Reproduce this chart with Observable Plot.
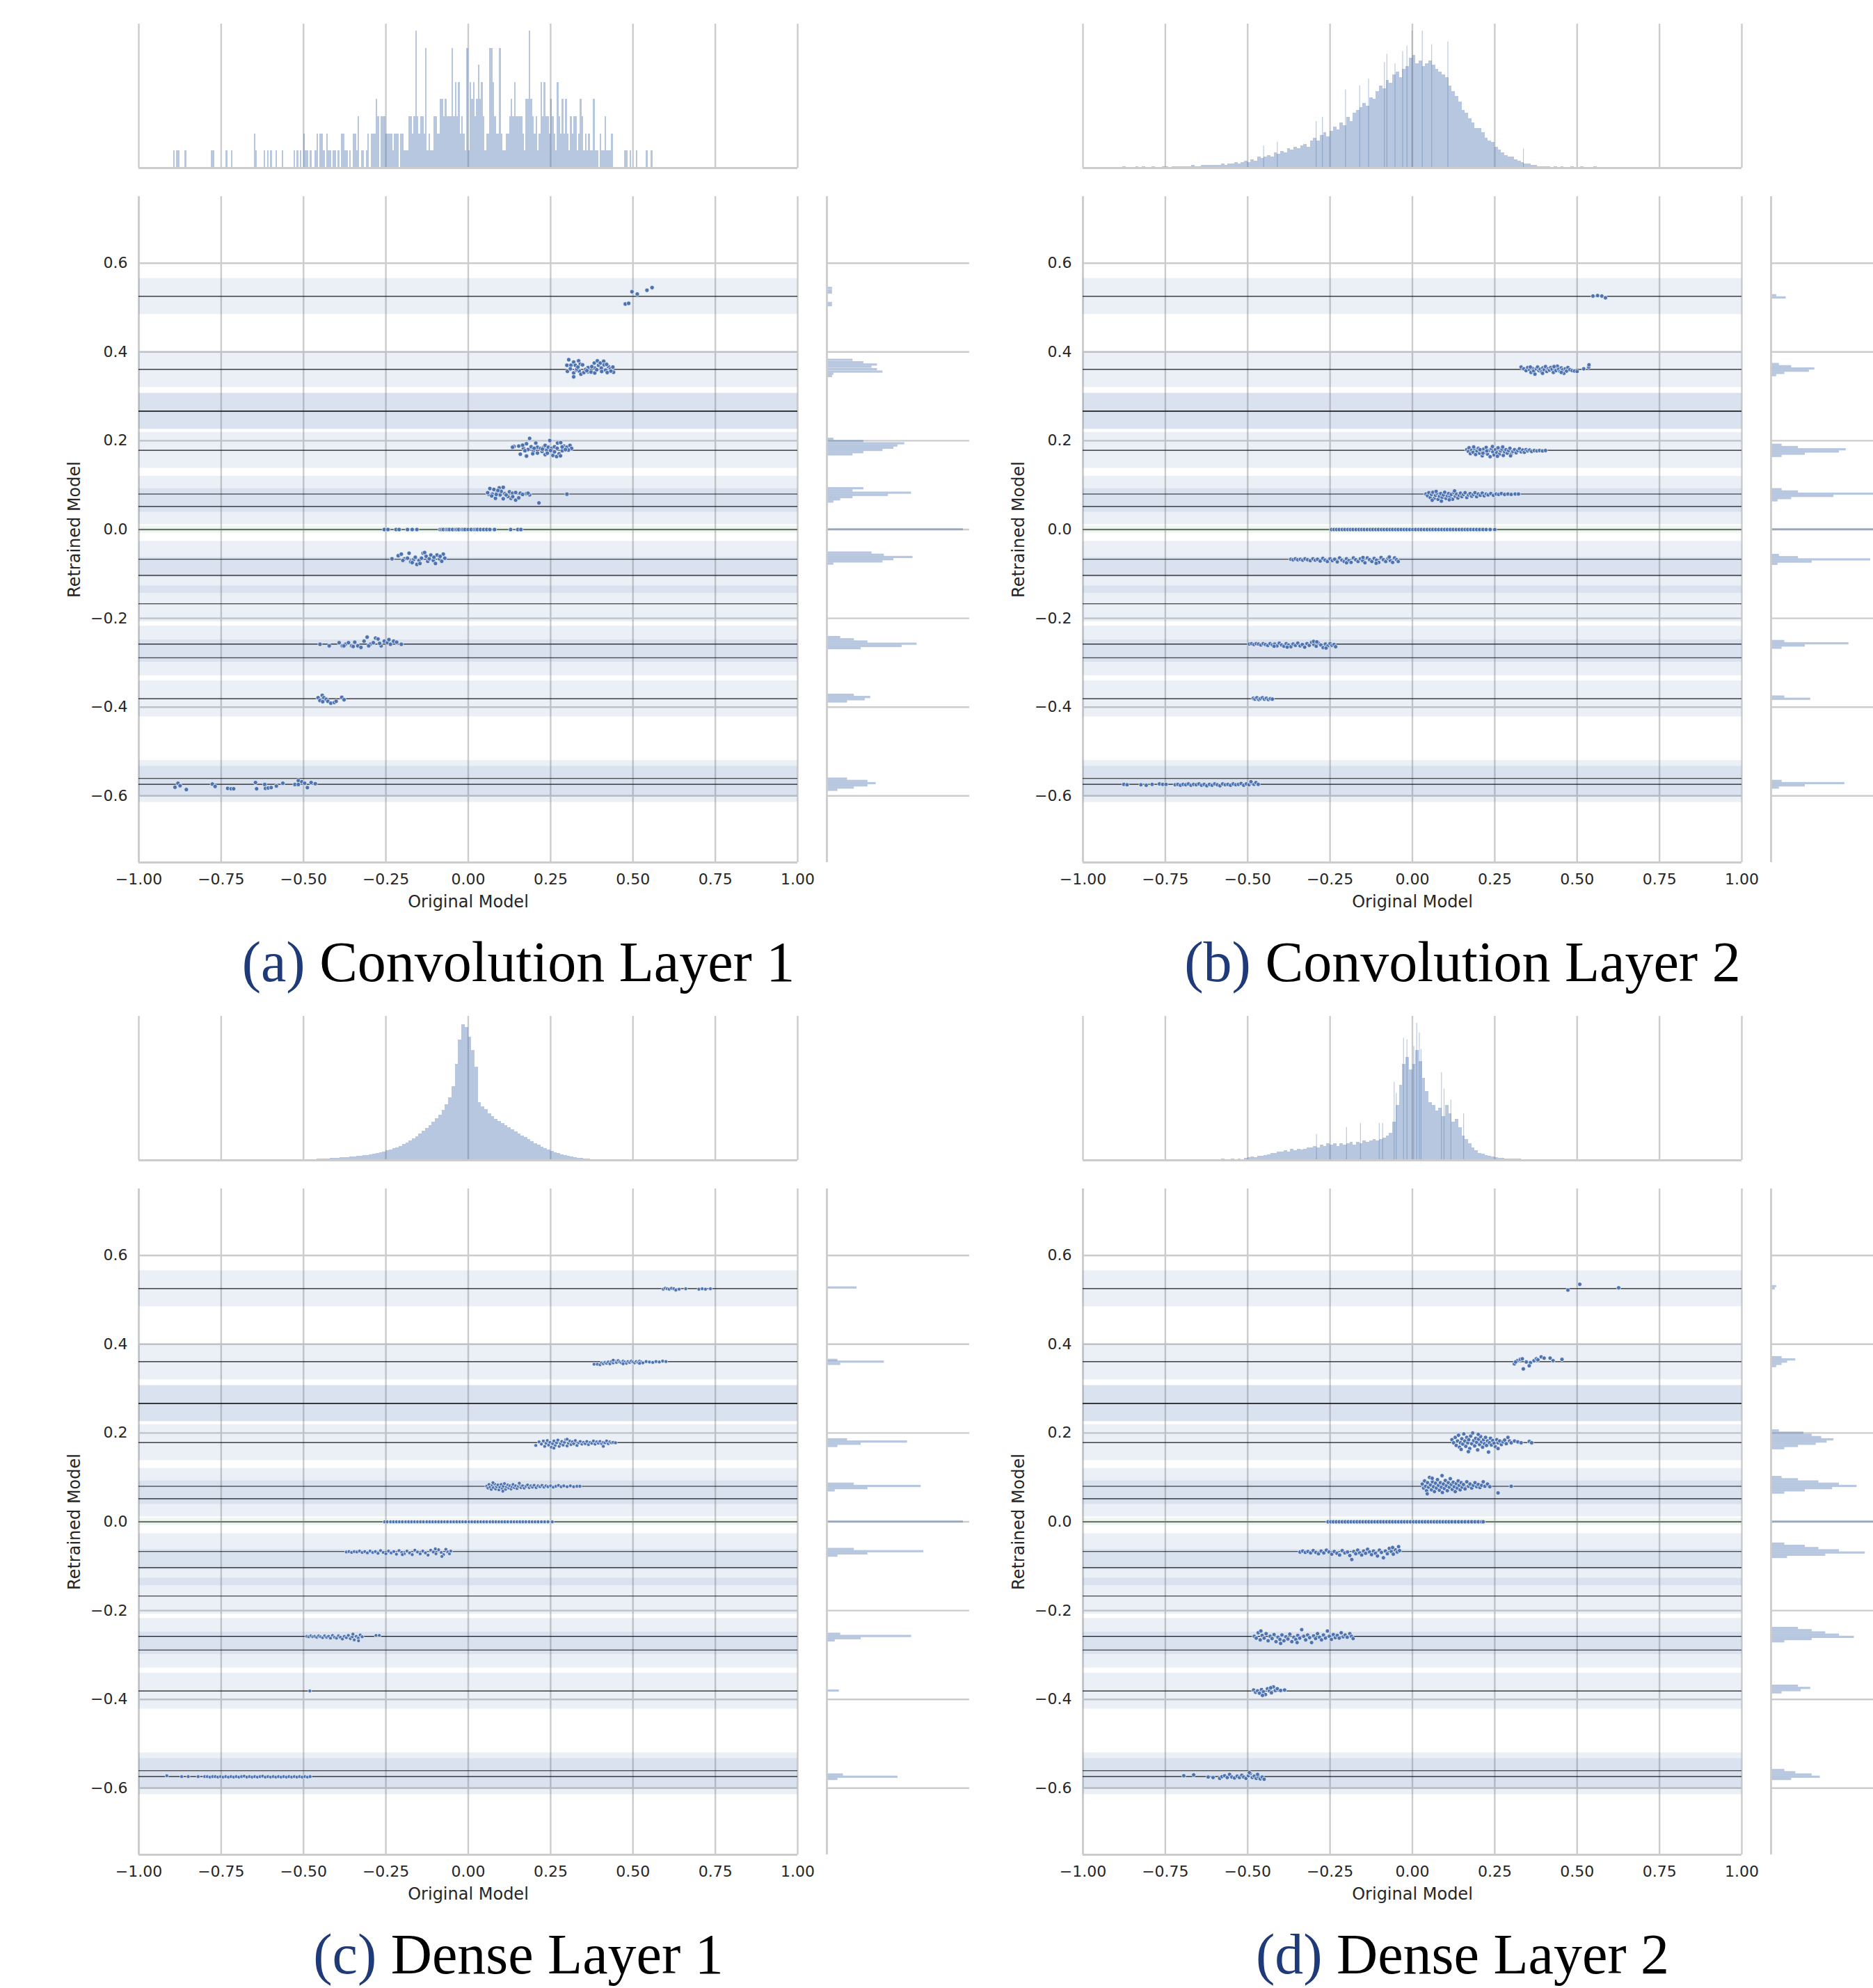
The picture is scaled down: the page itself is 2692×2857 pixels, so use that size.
<!DOCTYPE html>
<html><head><meta charset="utf-8">
<script src="https://cdn.jsdelivr.net/npm/d3@7"></script>
<script src="https://cdn.jsdelivr.net/npm/@observablehq/plot@0.6"></script>
<style>
body{margin:0;background:#fff;}
#root{position:relative;width:2692px;height:2857px;overflow:hidden;background:#fff;font-family:"DejaVu Sans";}
.cap{position:absolute;width:1200px;text-align:center;font-family:"Liberation Serif",serif;font-size:82px;line-height:82px;white-space:nowrap;color:#000;}
.cap .tag{color:#1f3a78;}
</style></head><body><div id="root"></div>
<script>
// ---------- shared scales / codebook ----------
const xTicks = [-1, -0.75, -0.5, -0.25, 0, 0.25, 0.5, 0.75, 1];
const yTicks = [-0.6, -0.4, -0.2, 0, 0.2, 0.4, 0.6];
const centroids = [0.5252, 0.3607, 0.2665, 0.2665, 0.1785, 0.0799, 0.0518, 0.0, -0.0670, -0.1031, -0.1673, -0.2580, -0.2888, -0.3812, -0.5607, -0.5739];
const bandHalf = 0.0405;
const zeroBandHalf = 0.008;

// ---------- (a) Convolution Layer 1 ----------
const ptsA = [
 [0.497,0.5357],[0.513,0.5305],[0.5425,0.539],[0.558,0.545],[0.4767,0.508],[0.487,0.5095],
 [0.305,0.3825],[0.2995,0.370],[0.3115,0.370],[0.320,0.3773],[0.325,0.370],[0.335,0.380],[0.340,0.3725],[0.347,0.371],[0.301,0.3564],[0.320,0.3527],[0.320,0.344],[0.328,0.359],[0.337,0.357],[0.342,0.350],[0.351,0.3537],[0.3635,0.3647],[0.3635,0.3553],[0.373,0.3548],[0.3825,0.375],[0.384,0.3637],[0.384,0.3527],[0.392,0.380],[0.3955,0.370],[0.401,0.375],[0.404,0.3637],[0.411,0.379],[0.4125,0.371],[0.417,0.359],[0.422,0.3537],[0.4257,0.367],[0.4315,0.362],[0.439,0.366],[0.441,0.3543],[0.3296,0.3616],[0.356,0.3605],[0.375,0.367],[0.31,0.362],[0.333,0.366],[0.36,0.358],[0.39,0.36],[0.405,0.356],[0.42,0.372],[0.433,0.357],
 [0.1863,0.2052],[0.2476,0.2005],[0.139,0.187],[0.1533,0.188],[0.1675,0.1827],[0.1768,0.1932],[0.1816,0.1802],[0.191,0.1864],[0.1977,0.1775],[0.205,0.1948],[0.21,0.1854],[0.2193,0.1827],[0.2288,0.1854],[0.2334,0.1895],[0.2382,0.179],[0.243,0.1854],[0.2524,0.1827],[0.2617,0.1864],[0.2712,0.1948],[0.2806,0.1958],[0.29,0.188],[0.2995,0.1854],[0.3088,0.1895],[0.3136,0.1827],[0.158,0.1697],[0.1768,0.1655],[0.1958,0.1707],[0.21,0.1723],[0.2334,0.1687],[0.257,0.167],[0.2683,0.1645],[0.2758,0.1707],[0.2853,0.1775],[0.172,0.1775],[0.224,0.176],[0.2617,0.175],[0.3041,0.179],[0.1345,0.1854],[0.2,0.183],[0.225,0.181],[0.25,0.178],[0.27,0.183],[0.285,0.186],[0.295,0.18],[0.165,0.19],[0.24,0.172],[0.28,0.166],
 [0.0656,0.0923],[0.0779,0.0902],[0.094,0.0938],[0.1062,0.0949],[0.0619,0.0797],[0.0731,0.0797],[0.0872,0.0834],[0.0967,0.0781],[0.1109,0.0808],[0.125,0.085],[0.1345,0.0818],[0.1439,0.0834],[0.158,0.0818],[0.1768,0.0808],[0.1863,0.0781],[0.0826,0.0703],[0.1062,0.0693],[0.1297,0.0703],[0.1439,0.0662],[0.1533,0.0714],[0.1204,0.0745],[0.0712,0.0756],[0.1816,0.0818],[0.2146,0.0599],[0.2995,0.0797],[0.0589,0.083],[0.085,0.079],[0.1,0.086],[0.115,0.078],[0.135,0.074],[0.165,0.079],[0.09,0.088],
 [-0.2315,-0.066],[-0.2125,-0.059],[-0.2031,-0.0554],[-0.1937,-0.066],[-0.1844,-0.0646],[-0.1796,-0.0533],[-0.1749,-0.073],[-0.1654,-0.0674],[-0.1607,-0.0625],[-0.156,-0.0786],[-0.1494,-0.0695],[-0.1419,-0.0646],[-0.1371,-0.0533],[-0.1324,-0.0519],[-0.1278,-0.0604],[-0.1229,-0.0716],[-0.1183,-0.066],[-0.1136,-0.0575],[-0.106,-0.0695],[-0.0995,-0.0765],[-0.0948,-0.0575],[-0.0872,-0.066],[-0.0805,-0.0716],[-0.0758,-0.0554],[-0.0712,-0.0646],[-0.1985,-0.0695],[-0.1702,-0.0744],[-0.1465,-0.0765],[-0.1041,-0.0625],[-0.0853,-0.0604],
 [-0.45,-0.2585],[-0.422,-0.262],[-0.3918,-0.255],[-0.3823,-0.262],[-0.3728,-0.2585],[-0.3635,-0.255],[-0.354,-0.262],[-0.3445,-0.2538],[-0.3352,-0.262],[-0.3257,-0.2655],[-0.3163,-0.2515],[-0.3069,-0.2424],[-0.2974,-0.2585],[-0.2881,-0.255],[-0.2813,-0.2445],[-0.2739,-0.2466],[-0.2644,-0.262],[-0.2549,-0.2515],[-0.2456,-0.255],[-0.2361,-0.2585],[-0.2266,-0.2515],[-0.2173,-0.2538],[-0.2031,-0.2585],[-0.3776,-0.262],[-0.3493,-0.2634],[-0.3022,-0.262],[-0.269,-0.2564],[-0.2408,-0.248],
 [-0.4558,-0.3789],[-0.4502,-0.3851],[-0.4431,-0.3736],[-0.4382,-0.3789],[-0.4418,-0.3877],[-0.4312,-0.3824],[-0.4262,-0.3869],[-0.4171,-0.3912],[-0.4066,-0.3895],[-0.401,-0.3869],[-0.3839,-0.378],[-0.3769,-0.3833],
 [-0.8902,-0.5805],[-0.881,-0.5716],[-0.8747,-0.577],[-0.8557,-0.5857],[-0.7768,-0.5734],[-0.7684,-0.5787],[-0.7303,-0.5831],[-0.7198,-0.584],[-0.7121,-0.584],[-0.6459,-0.5699],[-0.6424,-0.584],[-0.6178,-0.5743],[-0.6156,-0.5831],[-0.6072,-0.5822],[-0.5981,-0.5813],[-0.5825,-0.5778],[-0.5628,-0.5716],[-0.5262,-0.5743],[-0.5157,-0.5655],[-0.5157,-0.5743],[-0.5052,-0.5682],[-0.4967,-0.5716],[-0.4883,-0.5813],[-0.4769,-0.5699],[-0.4643,-0.5725]
];
const zeroA = [-0.255,-0.2437,-0.2192,-0.2098,-0.1844,-0.1702,-0.156,-0.0853,-0.0805,-0.0758,-0.0665,-0.062,-0.057,-0.0475,-0.0382,-0.034,-0.0287,-0.0192,-0.015,-0.01,-0.0004,0.009,0.0184,0.023,0.0279,0.0372,0.0467,0.0562,0.0655,0.0797,0.1286,0.1504,0.1598];
const histTopA = [
 0,1,0,1,1,0,0,0,1,0, 0,0,0,0,0,0,0,0,0,0, 0,0,0,0,1,1,0,0,0,0, 0,0,0,1,0,0,1,0,0,0,
 0,0,0,0,0,0,0,0,0,0, 2,1,0,0,0,0,1,0,1,0, 1,0,0,1,0,0,0,1,0,0, 0,0,0,0,1,0,1,0,1,0,
 2,1,1,0,1,0,0,1,2,0, 2,2,1,0,2,1,1,0,1,1, 0,1,0,2,2,1,1,0,1,0, 2,2,1,3,0,1,1,0,1,2,
 0,2,2,2,4,3,0,3,3,3, 2,2,2,2,1,2,2,2,0,2, 2,1,1,1,3,3,2,3,8,3, 2,3,3,2,7,1,2,1,1,3,
 3,2,2,4,4,3,4,3,3,3, 7,3,5,3,5,2,3,2,1,7, 1,5,4,5,3,4,6,4,5,3, 1,2,2,7,7,5,3,2,2,7,
 2,1,1,2,2,3,4,3,5,3, 3,3,3,2,1,4,4,8,4,3, 2,3,1,2,5,3,5,3,3,2, 4,3,2,1,5,3,2,4,2,4,
 2,1,3,2,3,3,1,2,4,3, 1,2,1,2,1,1,4,1,1,0, 2,1,1,3,1,1,1,2,0,0, 0,0,0,0,0,1,1,0,1,0,
 0,0,1,0,0,0,0,0,1,0, 0,1,0,0,0,0,0,0,0,0
];
const histRightA = [
 [0.5435,4],[0.538,4],[0.533,4],[0.5095,4],[0.5045,4],
 [0.3815,19],[0.376,27],[0.371,37],[0.366,33],[0.3605,37],[0.355,41],[0.350,5],[0.345,4],
 [0.2036,5],[0.1985,27],[0.1935,57],[0.1885,52],[0.1835,49],[0.1785,41],[0.1735,27],[0.1685,19],
 [0.0922,27],[0.0872,19],[0.0822,62],[0.0772,45],[0.0722,19],[0.0672,10],[0.0622,5],
 [0.0,100],
 [-0.0526,33],[-0.0576,42],[-0.0626,63],[-0.0676,49],[-0.0726,41],[-0.0776,5],
 [-0.243,10],[-0.248,20],[-0.253,30],[-0.258,66],[-0.263,55],[-0.268,25],
 [-0.373,20],[-0.378,32],[-0.383,28],[-0.388,15],
 [-0.562,15],[-0.567,30],[-0.572,36],[-0.577,30],[-0.582,20],[-0.587,8]
];

// ---------- (b) Convolution Layer 2 ----------
const ptsB = [
 [0.548,0.526],[0.562,0.527],[0.575,0.526],[0.586,0.522],
 [0.330,0.366],[0.338,0.362],[0.345,0.358],[0.350,0.365],[0.356,0.360],[0.360,0.354],[0.364,0.363],[0.368,0.357],[0.372,0.350],[0.376,0.362],[0.380,0.366],[0.384,0.358],[0.388,0.361],[0.392,0.355],[0.396,0.364],[0.400,0.360],[0.404,0.367],[0.408,0.356],[0.412,0.362],[0.416,0.359],[0.420,0.365],[0.424,0.361],[0.428,0.354],[0.432,0.363],[0.436,0.358],[0.440,0.368],[0.444,0.361],[0.448,0.356],[0.452,0.364],[0.456,0.360],[0.460,0.352],[0.464,0.362],[0.468,0.357],[0.472,0.365],[0.478,0.360],[0.485,0.358],[0.492,0.357],[0.500,0.356],[0.520,0.362],[0.535,0.366],[0.536,0.371],[0.358,0.366],[0.395,0.352],[0.430,0.367],[0.452,0.354],
 [0.165,0.180],[0.170,0.176],[0.172,0.184],[0.176,0.171],[0.180,0.179],[0.184,0.174],[0.188,0.182],[0.192,0.169],[0.196,0.177],[0.200,0.183],[0.204,0.172],[0.208,0.178],[0.212,0.166],[0.216,0.181],[0.220,0.174],[0.224,0.185],[0.228,0.170],[0.232,0.178],[0.236,0.164],[0.240,0.182],[0.244,0.175],[0.248,0.168],[0.252,0.180],[0.256,0.173],[0.260,0.184],[0.264,0.170],[0.268,0.177],[0.272,0.181],[0.276,0.167],[0.280,0.175],[0.284,0.180],[0.288,0.172],[0.292,0.178],[0.296,0.183],[0.300,0.170],[0.305,0.176],[0.310,0.180],[0.315,0.173],[0.320,0.178],[0.325,0.182],[0.330,0.175],[0.335,0.179],[0.340,0.174],[0.345,0.180],[0.350,0.177],[0.356,0.179],[0.362,0.176],[0.370,0.178],[0.378,0.177],[0.386,0.178],[0.395,0.177],[0.404,0.178],[0.186,0.186],[0.214,0.172],[0.243,0.187],[0.258,0.165],[0.274,0.186],[0.298,0.166],[0.226,0.177],[0.205,0.18],
 [0.041,0.080],[0.046,0.076],[0.050,0.083],[0.054,0.072],[0.058,0.079],[0.062,0.084],[0.066,0.070],[0.070,0.077],[0.074,0.082],[0.078,0.068],[0.082,0.075],[0.086,0.081],[0.090,0.072],[0.094,0.078],[0.098,0.084],[0.102,0.070],[0.106,0.076],[0.110,0.081],[0.114,0.074],[0.118,0.079],[0.122,0.068],[0.126,0.083],[0.130,0.075],[0.134,0.080],[0.138,0.071],[0.142,0.077],[0.146,0.082],[0.150,0.074],[0.155,0.079],[0.160,0.083],[0.165,0.072],[0.170,0.078],[0.175,0.081],[0.180,0.075],[0.185,0.079],[0.190,0.083],[0.195,0.074],[0.200,0.080],[0.206,0.077],[0.212,0.082],[0.218,0.076],[0.224,0.080],[0.230,0.078],[0.238,0.081],[0.246,0.077],[0.254,0.080],[0.262,0.079],[0.270,0.081],[0.280,0.079],[0.290,0.080],[0.300,0.079],[0.312,0.080],[0.322,0.080],[0.060,0.066],[0.088,0.064],[0.112,0.067],[0.072,0.086],[0.128,0.087],
 [-0.369,-0.067],[-0.362,-0.068],[-0.355,-0.066],[-0.348,-0.068],[-0.340,-0.067],[-0.333,-0.069],[-0.326,-0.066],[-0.318,-0.068],[-0.310,-0.070],[-0.302,-0.066],[-0.295,-0.069],[-0.288,-0.067],[-0.280,-0.071],[-0.272,-0.065],[-0.265,-0.069],[-0.258,-0.072],[-0.250,-0.066],[-0.243,-0.070],[-0.236,-0.067],[-0.228,-0.073],[-0.221,-0.064],[-0.214,-0.069],[-0.207,-0.072],[-0.200,-0.066],[-0.193,-0.070],[-0.186,-0.074],[-0.179,-0.064],[-0.172,-0.068],[-0.165,-0.072],[-0.158,-0.066],[-0.151,-0.070],[-0.144,-0.075],[-0.137,-0.064],[-0.130,-0.068],[-0.123,-0.072],[-0.116,-0.065],[-0.109,-0.069],[-0.102,-0.074],[-0.095,-0.063],[-0.088,-0.068],[-0.081,-0.072],[-0.074,-0.065],[-0.067,-0.070],[-0.060,-0.074],[-0.054,-0.064],[-0.048,-0.068],[-0.043,-0.072],[-0.2,-0.075],[-0.15,-0.063],[-0.11,-0.076],[-0.07,-0.062],
 [-0.495,-0.258],[-0.488,-0.257],[-0.481,-0.259],[-0.474,-0.257],[-0.467,-0.258],[-0.460,-0.260],[-0.453,-0.257],[-0.446,-0.259],[-0.439,-0.261],[-0.432,-0.257],[-0.425,-0.260],[-0.418,-0.258],[-0.411,-0.262],[-0.404,-0.256],[-0.397,-0.260],[-0.390,-0.263],[-0.383,-0.257],[-0.376,-0.260],[-0.369,-0.264],[-0.362,-0.258],[-0.355,-0.261],[-0.348,-0.256],[-0.341,-0.262],[-0.334,-0.259],[-0.327,-0.265],[-0.320,-0.257],[-0.313,-0.261],[-0.306,-0.254],[-0.299,-0.259],[-0.292,-0.263],[-0.285,-0.256],[-0.278,-0.260],[-0.271,-0.266],[-0.264,-0.258],[-0.257,-0.262],[-0.250,-0.257],[-0.244,-0.261],[-0.238,-0.259],[-0.233,-0.264],[-0.300,-0.252],[-0.290,-0.253],[-0.262,-0.267],[-0.38,-0.265],[-0.42,-0.263],
 [-0.483,-0.38],[-0.478,-0.382],[-0.472,-0.379],[-0.466,-0.383],[-0.461,-0.381],[-0.455,-0.379],[-0.449,-0.382],[-0.443,-0.380],[-0.437,-0.383],[-0.431,-0.381],[-0.425,-0.382],
 [-0.876,-0.574],[-0.866,-0.575],[-0.824,-0.575],[-0.808,-0.576],[-0.79,-0.574],[-0.768,-0.573],[-0.758,-0.574],[-0.748,-0.574],[-0.72,-0.575],[-0.712,-0.574],[-0.704,-0.576],[-0.696,-0.574],[-0.688,-0.575],[-0.680,-0.573],[-0.672,-0.576],[-0.664,-0.574],[-0.656,-0.575],[-0.648,-0.573],[-0.640,-0.576],[-0.632,-0.574],[-0.624,-0.577],[-0.616,-0.574],[-0.608,-0.576],[-0.600,-0.573],[-0.592,-0.575],[-0.584,-0.577],[-0.576,-0.573],[-0.568,-0.575],[-0.560,-0.574],[-0.552,-0.576],[-0.544,-0.573],[-0.536,-0.575],[-0.528,-0.574],[-0.520,-0.572],[-0.512,-0.576],[-0.504,-0.573],[-0.496,-0.575],[-0.488,-0.571],[-0.481,-0.574],[-0.475,-0.570],[-0.468,-0.574],[-0.49,-0.568]
];
const zeroB = [-0.246,-0.238,-0.23,-0.222,-0.213,-0.205,-0.196,-0.188,-0.18,-0.171,-0.162,-0.154,-0.146,-0.137,-0.128,-0.12,-0.111,-0.103,-0.094,-0.086,-0.077,-0.068,-0.06,-0.051,-0.043,-0.034,-0.025,-0.017,-0.008,0.001,0.01,0.019,0.027,0.036,0.045,0.054,0.062,0.071,0.08,0.089,0.098,0.106,0.115,0.124,0.133,0.142,0.151,0.16,0.168,0.177,0.186,0.195,0.204,0.214,0.224,0.236,0.25];
const histTopB = [
 0,0,1,0,0,0,1,0,1,0, 0,1,0,0,1,1,0,1,1,1, 1,1,1,2,1,1,2,2,2,2, 2,2,3,2,3,3,4,3,4,5,
 4,6,5,8,7,8,9,8,11,10, 12,11,14,13,15,14,16,17,15,20, 22,20,24,26,23,27,30,28,33,31,
 37,34,40,42,44,47,45,51,50,56, 60,58,64,62,68,70,66,72,74,80, 82,76,78,74,76,78,75,72,70,68,
 66,60,56,52,48,42,40,36,33,29, 29,26,22,20,19,15,13,11,9,8, 8,6,5,4,3,3,2,2,1,1,
 1,1,0,1,0,1,0,0,1,0, 0,1,0,0,0,1,0,0,0,0
];
const spikesB = [[-0.0155,89],[0,100],[0.031,100],[0.0596,90],[0.1087,92],[-0.084,77],[-0.0764,83],[-0.0518,76],[-0.0285,85],[-0.202,57],[-0.159,60],[-0.132,65],[-0.272,37],[-0.291,34],[-0.4505,16],[-0.409,19],[0.338,14]];
const histRightB = [
 [0.527,4],[0.522,11],
 [0.372,6],[0.367,15],[0.362,32],[0.357,28],[0.352,10],[0.347,4],
 [0.19,8],[0.185,20],[0.18,55],[0.175,50],[0.17,25],[0.165,8],
 [0.09,8],[0.085,20],[0.08,90],[0.075,46],[0.07,15],[0.065,5],
 [0.0,100],
 [-0.058,6],[-0.063,20],[-0.068,73],[-0.073,30],[-0.078,5],
 [-0.252,10],[-0.257,57],[-0.262,25],[-0.267,8],
 [-0.377,10],[-0.382,29],
 [-0.567,8],[-0.572,54],[-0.577,25],[-0.582,6]
];

// ---------- (c) Dense Layer 1 ----------
const ptsC = [
 [0.592,0.524],[0.598,0.526],[0.604,0.525],[0.61,0.524],[0.617,0.526],[0.624,0.525],[0.63,0.522],[0.64,0.524],[0.66,0.525],[0.70,0.524],[0.71,0.525],[0.72,0.524],[0.735,0.525],
 [0.382,0.355],[0.392,0.355],[0.40,0.354],[0.405,0.358],[0.41,0.356],[0.415,0.359],[0.42,0.357],[0.425,0.36],[0.43,0.356],[0.435,0.361],[0.44,0.358],[0.445,0.362],[0.45,0.359],[0.455,0.363],[0.46,0.36],[0.465,0.358],[0.47,0.362],[0.475,0.36],[0.48,0.357],[0.485,0.361],[0.49,0.359],[0.495,0.362],[0.50,0.36],[0.505,0.358],[0.51,0.361],[0.515,0.359],[0.52,0.362],[0.525,0.36],[0.53,0.358],[0.54,0.361],[0.55,0.36],[0.56,0.359],[0.57,0.361],[0.58,0.36],[0.59,0.362],[0.60,0.361],[0.44,0.364],[0.47,0.356],[0.52,0.357],
 [0.205,0.172],[0.215,0.18],[0.222,0.175],[0.228,0.182],[0.232,0.17],[0.236,0.177],[0.24,0.183],[0.244,0.173],[0.248,0.179],[0.252,0.168],[0.256,0.176],[0.26,0.182],[0.264,0.172],[0.268,0.178],[0.272,0.184],[0.276,0.17],[0.28,0.176],[0.284,0.181],[0.288,0.173],[0.292,0.179],[0.296,0.185],[0.30,0.171],[0.304,0.177],[0.308,0.182],[0.312,0.174],[0.316,0.18],[0.32,0.176],[0.325,0.183],[0.33,0.172],[0.335,0.178],[0.34,0.181],[0.345,0.175],[0.35,0.179],[0.355,0.176],[0.36,0.181],[0.365,0.174],[0.37,0.179],[0.375,0.177],[0.38,0.182],[0.385,0.175],[0.39,0.18],[0.395,0.177],[0.40,0.181],[0.405,0.176],[0.41,0.179],[0.415,0.178],[0.42,0.182],[0.425,0.176],[0.43,0.18],[0.435,0.178],[0.44,0.179],[0.447,0.178],[0.41,0.17],[0.3,0.186],[0.26,0.166],
 [0.056,0.08],[0.06,0.076],[0.063,0.084],[0.066,0.078],[0.07,0.073],[0.073,0.082],[0.076,0.077],[0.08,0.085],[0.083,0.074],[0.086,0.079],[0.09,0.083],[0.093,0.072],[0.096,0.078],[0.1,0.084],[0.103,0.075],[0.106,0.08],[0.11,0.086],[0.113,0.073],[0.116,0.079],[0.12,0.083],[0.123,0.076],[0.126,0.081],[0.13,0.074],[0.133,0.079],[0.136,0.084],[0.14,0.077],[0.144,0.081],[0.148,0.075],[0.152,0.08],[0.156,0.084],[0.16,0.077],[0.165,0.081],[0.17,0.076],[0.175,0.08],[0.18,0.083],[0.185,0.077],[0.19,0.081],[0.195,0.078],[0.2,0.082],[0.206,0.077],[0.212,0.081],[0.218,0.079],[0.224,0.082],[0.23,0.078],[0.236,0.081],[0.242,0.079],[0.25,0.081],[0.258,0.078],[0.266,0.08],[0.274,0.082],[0.282,0.079],[0.29,0.081],[0.3,0.079],[0.31,0.081],[0.32,0.079],[0.33,0.08],[0.339,0.08],[0.075,0.088],[0.105,0.069],[0.155,0.087],
 [-0.37,-0.068],[-0.362,-0.067],[-0.354,-0.069],[-0.346,-0.067],[-0.338,-0.068],[-0.33,-0.066],[-0.322,-0.069],[-0.314,-0.067],[-0.306,-0.07],[-0.298,-0.066],[-0.29,-0.069],[-0.282,-0.067],[-0.274,-0.071],[-0.266,-0.065],[-0.258,-0.069],[-0.25,-0.072],[-0.242,-0.066],[-0.234,-0.07],[-0.226,-0.067],[-0.218,-0.073],[-0.21,-0.065],[-0.202,-0.069],[-0.194,-0.072],[-0.186,-0.066],[-0.178,-0.07],[-0.17,-0.074],[-0.162,-0.064],[-0.154,-0.068],[-0.146,-0.072],[-0.138,-0.066],[-0.13,-0.07],[-0.122,-0.075],[-0.114,-0.064],[-0.106,-0.068],[-0.098,-0.072],[-0.09,-0.063],[-0.082,-0.069],[-0.075,-0.074],[-0.068,-0.062],[-0.062,-0.068],[-0.057,-0.072],[-0.053,-0.066],[-0.08,-0.078],[-0.1,-0.061],[-0.2,-0.074],
 [-0.49,-0.258],[-0.484,-0.259],[-0.478,-0.257],[-0.472,-0.259],[-0.466,-0.258],[-0.46,-0.26],[-0.454,-0.257],[-0.448,-0.259],[-0.442,-0.261],[-0.436,-0.257],[-0.43,-0.26],[-0.424,-0.258],[-0.418,-0.262],[-0.412,-0.256],[-0.406,-0.26],[-0.4,-0.262],[-0.394,-0.257],[-0.388,-0.26],[-0.382,-0.264],[-0.376,-0.258],[-0.37,-0.261],[-0.364,-0.256],[-0.358,-0.263],[-0.352,-0.259],[-0.346,-0.266],[-0.34,-0.258],[-0.334,-0.262],[-0.328,-0.255],[-0.322,-0.259],[-0.28,-0.256],[-0.27,-0.256],[-0.35,-0.253],[-0.333,-0.268],
 [-0.481,-0.381],
 [-0.915,-0.572],[-0.87,-0.574],[-0.85,-0.574],[-0.82,-0.574],[-0.80,-0.574],[-0.792,-0.574],[-0.784,-0.575],[-0.776,-0.574],[-0.768,-0.574],[-0.76,-0.575],[-0.752,-0.574],[-0.744,-0.575],[-0.736,-0.574],[-0.728,-0.575],[-0.72,-0.574],[-0.712,-0.575],[-0.704,-0.574],[-0.696,-0.575],[-0.688,-0.574],[-0.68,-0.573],[-0.672,-0.575],[-0.664,-0.574],[-0.656,-0.575],[-0.648,-0.574],[-0.64,-0.575],[-0.632,-0.574],[-0.624,-0.573],[-0.616,-0.575],[-0.608,-0.574],[-0.6,-0.575],[-0.592,-0.574],[-0.584,-0.575],[-0.576,-0.574],[-0.568,-0.575],[-0.56,-0.574],[-0.552,-0.575],[-0.544,-0.574],[-0.536,-0.575],[-0.528,-0.574],[-0.52,-0.575],[-0.512,-0.574],[-0.504,-0.575],[-0.496,-0.574],[-0.488,-0.575],[-0.48,-0.574]
];
const zeroC = [-0.254,-0.246,-0.236,-0.227,-0.218,-0.209,-0.2,-0.19,-0.181,-0.172,-0.163,-0.154,-0.145,-0.136,-0.126,-0.117,-0.108,-0.099,-0.09,-0.081,-0.072,-0.063,-0.053,-0.044,-0.035,-0.026,-0.017,-0.008,0.002,0.011,0.02,0.029,0.038,0.047,0.056,0.066,0.075,0.084,0.093,0.102,0.111,0.12,0.13,0.139,0.148,0.157,0.166,0.175,0.185,0.194,0.203,0.212,0.222,0.232,0.242,0.255];
const histTopC = [
 0,0,0,0,0,0,0,0.1,0.2,0.3, 0.4,0.5,0.6,0.7,0.8,0.9,1.0,1.1,1.3,1.5, 1.6,1.8,2.0,2.2,2.4,2.6,2.8,3.1,3.4,3.8,
 4.2,4.6,5.1,5.6,6.2,6.9,7.6,8.4,9.3,10.2, 11.5,12.8,14.2,15.8,17.5,19.3,21.2,23.3,25.5,27.8,
 30.3,33.2,36.5,40.5,45.5,54,70,88,99,97, 90,80,68,42,39,37,34,32,30,28.5,
 27,25.5,24,22.5,21,19.5,18,16.5,15,13.6, 12.3,11,9.8,8.7,7.6,6.6,5.7,4.9,4.2,3.5,
 2.9,2.4,2.0,1.6,1.3,1.0,0.8,0.6,0.45,0.3, 0.2,0.1,0.05,0,0,0,0,0,0,0
];
const histRightC = [
 [0.527,22],
 [0.364,8],[0.36,42],[0.355,10],
 [0.185,15],[0.18,59],[0.175,25],[0.17,8],
 [0.085,20],[0.08,69],[0.075,30],[0.07,6],
 [0.0,100],
 [-0.062,20],[-0.067,71],[-0.072,30],[-0.077,8],
 [-0.253,10],[-0.258,62],[-0.263,25],[-0.268,6],
 [-0.381,9],
 [-0.57,12],[-0.575,52],[-0.58,8]
];

// ---------- (d) Dense Layer 2 ----------
const ptsD = [
 [0.472,0.522],[0.508,0.535],[0.626,0.527],
 [0.3094,0.3557],[0.3185,0.3628],[0.3276,0.3658],[0.3367,0.3443],[0.3457,0.36],[0.3584,0.3586],[0.3692,0.3628],[0.3764,0.3672],[0.391,0.3714],[0.3998,0.3686],[0.418,0.3686],[0.427,0.3628],[0.454,0.3658],[0.3546,0.3514],[0.3132,0.36],[0.3336,0.367],[0.381,0.3648],
 [0.12,0.185],[0.125,0.178],[0.13,0.19],[0.133,0.172],[0.137,0.182],[0.14,0.195],[0.143,0.168],[0.146,0.178],[0.15,0.187],[0.153,0.175],[0.156,0.198],[0.159,0.182],[0.162,0.17],[0.165,0.19],[0.168,0.178],[0.171,0.185],[0.174,0.165],[0.177,0.193],[0.18,0.176],[0.183,0.2],[0.186,0.183],[0.189,0.171],[0.192,0.188],[0.195,0.179],[0.198,0.162],[0.201,0.186],[0.204,0.174],[0.207,0.192],[0.21,0.18],[0.213,0.168],[0.216,0.185],[0.219,0.176],[0.222,0.19],[0.225,0.172],[0.228,0.182],[0.231,0.157],[0.234,0.178],[0.237,0.188],[0.24,0.173],[0.244,0.183],[0.248,0.177],[0.252,0.169],[0.256,0.185],[0.26,0.178],[0.265,0.182],[0.27,0.174],[0.275,0.18],[0.28,0.184],[0.285,0.176],[0.29,0.19],[0.295,0.182],[0.30,0.178],[0.31,0.182],[0.32,0.18],[0.33,0.178],[0.355,0.181],[0.362,0.178],[0.148,0.163],[0.2,0.197],[0.26,0.165],[0.17,0.158],
 [0.03,0.085],[0.034,0.076],[0.037,0.092],[0.04,0.08],[0.043,0.07],[0.046,0.088],[0.049,0.078],[0.052,0.1],[0.055,0.083],[0.058,0.072],[0.061,0.09],[0.064,0.079],[0.067,0.068],[0.07,0.087],[0.073,0.076],[0.076,0.095],[0.079,0.082],[0.082,0.071],[0.085,0.088],[0.088,0.078],[0.091,0.066],[0.094,0.085],[0.097,0.075],[0.1,0.093],[0.103,0.081],[0.106,0.07],[0.109,0.088],[0.112,0.078],[0.115,0.097],[0.118,0.084],[0.121,0.073],[0.124,0.089],[0.127,0.079],[0.13,0.068],[0.133,0.086],[0.136,0.076],[0.139,0.092],[0.142,0.082],[0.145,0.072],[0.148,0.088],[0.151,0.078],[0.155,0.084],[0.16,0.074],[0.165,0.09],[0.17,0.08],[0.175,0.085],[0.18,0.076],[0.185,0.082],[0.19,0.088],[0.195,0.079],[0.2,0.084],[0.205,0.077],[0.21,0.082],[0.215,0.09],[0.22,0.08],[0.228,0.085],[0.235,0.079],[0.26,0.065],[0.30,0.08],[0.045,0.063],[0.09,0.104],[0.06,0.098],
 [-0.341,-0.068],[-0.333,-0.066],[-0.325,-0.069],[-0.317,-0.067],[-0.309,-0.07],[-0.301,-0.065],[-0.293,-0.069],[-0.285,-0.072],[-0.277,-0.066],[-0.269,-0.07],[-0.261,-0.064],[-0.253,-0.068],[-0.245,-0.073],[-0.237,-0.067],[-0.229,-0.071],[-0.221,-0.075],[-0.213,-0.065],[-0.205,-0.07],[-0.197,-0.068],[-0.19,-0.076],[-0.184,-0.085],[-0.178,-0.067],[-0.172,-0.072],[-0.166,-0.064],[-0.16,-0.07],[-0.154,-0.075],[-0.148,-0.066],[-0.142,-0.071],[-0.136,-0.062],[-0.13,-0.068],[-0.124,-0.074],[-0.118,-0.066],[-0.112,-0.071],[-0.106,-0.077],[-0.1,-0.064],[-0.094,-0.069],[-0.088,-0.081],[-0.082,-0.066],[-0.076,-0.072],[-0.07,-0.06],[-0.064,-0.067],[-0.058,-0.073],[-0.052,-0.063],[-0.046,-0.068],[-0.042,-0.056],[-0.039,-0.065],[-0.06,-0.058],
 [-0.48,-0.258],[-0.474,-0.262],[-0.468,-0.25],[-0.462,-0.266],[-0.456,-0.256],[-0.45,-0.262],[-0.444,-0.252],[-0.438,-0.268],[-0.432,-0.258],[-0.426,-0.263],[-0.42,-0.254],[-0.414,-0.27],[-0.408,-0.26],[-0.402,-0.265],[-0.396,-0.255],[-0.39,-0.268],[-0.384,-0.259],[-0.378,-0.264],[-0.372,-0.253],[-0.366,-0.27],[-0.36,-0.26],[-0.354,-0.265],[-0.348,-0.256],[-0.342,-0.262],[-0.336,-0.243],[-0.33,-0.258],[-0.324,-0.266],[-0.318,-0.255],[-0.312,-0.261],[-0.306,-0.272],[-0.3,-0.257],[-0.294,-0.263],[-0.288,-0.252],[-0.282,-0.26],[-0.276,-0.266],[-0.27,-0.255],[-0.264,-0.262],[-0.258,-0.246],[-0.252,-0.258],[-0.246,-0.265],[-0.24,-0.254],[-0.234,-0.261],[-0.228,-0.256],[-0.222,-0.262],[-0.216,-0.25],[-0.21,-0.259],[-0.204,-0.255],[-0.198,-0.26],[-0.19,-0.252],[-0.185,-0.258],[-0.18,-0.263],[-0.46,-0.246],[-0.4,-0.274],[-0.35,-0.272],
 [-0.482,-0.379],[-0.476,-0.384],[-0.47,-0.381],[-0.464,-0.386],[-0.458,-0.378],[-0.452,-0.383],[-0.446,-0.389],[-0.44,-0.376],[-0.434,-0.381],[-0.428,-0.385],[-0.422,-0.372],[-0.416,-0.38],[-0.41,-0.376],[-0.4,-0.38],[-0.388,-0.379],[-0.455,-0.391],[-0.43,-0.374],
 [-0.694,-0.572],[-0.664,-0.57],[-0.62,-0.575],[-0.605,-0.576],[-0.585,-0.578],[-0.578,-0.574],[-0.57,-0.572],[-0.562,-0.576],[-0.555,-0.569],[-0.548,-0.575],[-0.54,-0.577],[-0.532,-0.573],[-0.525,-0.576],[-0.518,-0.571],[-0.512,-0.575],[-0.505,-0.578],[-0.498,-0.572],[-0.492,-0.567],[-0.486,-0.576],[-0.48,-0.573],[-0.474,-0.578],[-0.468,-0.574],[-0.462,-0.579],[-0.456,-0.575],[-0.45,-0.58],[-0.495,-0.565],[-0.47,-0.569]
];
const zeroD = [-0.256,-0.248,-0.24,-0.231,-0.222,-0.213,-0.204,-0.195,-0.186,-0.177,-0.168,-0.159,-0.15,-0.141,-0.132,-0.123,-0.114,-0.105,-0.096,-0.087,-0.078,-0.069,-0.06,-0.051,-0.042,-0.033,-0.024,-0.015,-0.006,0.003,0.012,0.021,0.03,0.039,0.048,0.057,0.066,0.075,0.084,0.093,0.102,0.111,0.12,0.13,0.14,0.15,0.16,0.17,0.18,0.19,0.2,0.21,0.215];
const histTopD = [
 0,0.5,0,0,0.5,0,0,0.5,0,0.5, 0,0.5,1,0.5,0.5,1,0.5,1,0.5,1.5,
 2,2.5,2,3,3,3.5,4,5,5,6, 6,7,6,8,7,8,7.5,8,9,9, 10,9,11,10,12,11,12,10,12,11,
 12,13,11,13,12,14,13,14,15,14, 15,16,18,20,28,40,55,70,75,66,
 70,80,72,60,50,42,40,36,38,32, 40,34,28,30,24,18,15,12,9,7, 5,4.5,3.5,3,2.5,2,1.5,1.5,1,1,
 1,0.8,0.8,0.6,0.5,0.5,0.4,0.4,0.3,0.3, 0.3,0.2,0.2,0,0,0,0,0,0,0.2, 0,0,0.3,0,0,0,0,0,0,0,
 0,0,0,0,0,0,0,0,0,0
];
const spikesD = [[0.0142,100],[0.022,93],[-0.0259,89],[-0.0155,88],[0.0052,83],[0.0272,81],[0.0893,64],[0.0971,52],[-0.0479,49],[-0.0544,57],[-0.29,19],[-0.199,24],[-0.1566,27],[-0.0997,27],[-0.0893,27],[0.1566,34],[0.1178,44]];
const histRightD = [
 [0.53,4],[0.525,3],
 [0.37,8],[0.365,18],[0.36,12],[0.355,8],[0.35,4],
 [0.205,6],[0.2,24],[0.195,30],[0.19,37],[0.185,46],[0.18,41],[0.175,33],[0.17,20],[0.165,10],
 [0.1,8],[0.095,20],[0.09,35],[0.085,50],[0.08,63],[0.075,45],[0.07,25],[0.065,10],
 [0.0,100],
 [-0.05,10],[-0.055,25],[-0.06,35],[-0.065,50],[-0.07,69],[-0.075,40],[-0.08,12],
 [-0.24,20],[-0.245,30],[-0.25,40],[-0.255,50],[-0.26,61],[-0.265,30],[-0.27,10],
 [-0.37,20],[-0.375,29],[-0.38,22],[-0.385,8],
 [-0.56,10],[-0.565,18],[-0.57,30],[-0.575,36],[-0.58,15]
];

// ---------- drawing ----------
const BLUE = "#4c72b0", GRID = "#cccccc", TXT = "#262626";
const fmtX = d => (d < 0 ? "\u2212" : "") + Math.abs(d).toFixed(2);
const fmtY = d => (d < 0 ? "\u2212" : "") + Math.abs(d).toFixed(1);
const root = document.getElementById("root");
function place(node, left, top) {
  node.style.position = "absolute";
  node.style.left = left + "px";
  node.style.top = top + "px";
  root.appendChild(node);
}
const baseStyle = {background: "transparent", fontFamily: "DejaVu Sans", color: TXT, overflow: "visible"};
const PW = 947, PH = 957;  // main frame size

function mainPlot(p) {
  const ml = 199, mr = 10, mt = 10, mb = 80;
  const pts = p.pts.map(([x, y]) => ({x, y})).concat(p.zeros.map(x => ({x, y: 0})));
  const nonZero = centroids.filter(c => c !== 0);
  return Plot.plot({
    width: ml + PW + mr, height: mt + PH + mb,
    marginLeft: ml, marginRight: mr, marginTop: mt, marginBottom: mb,
    style: baseStyle,
    x: {domain: [-1, 1]}, y: {domain: [-0.75, 0.75]},
    marks: [
      Plot.ruleX(xTicks, {stroke: GRID, strokeWidth: 2.4}),
      Plot.ruleY(yTicks, {stroke: GRID, strokeWidth: 2.4}),
      Plot.ruleY([-0.75], {stroke: GRID, strokeWidth: 2.8}),
      Plot.ruleX([-1], {stroke: GRID, strokeWidth: 2.8}),
      Plot.rect(nonZero, {x1: () => -1, x2: () => 1, y1: d => d - bandHalf, y2: d => d + bandHalf, fill: BLUE, fillOpacity: 0.11, inset: 0}),
      Plot.rect([0], {x1: () => -1, x2: () => 1, y1: () => -zeroBandHalf, y2: () => zeroBandHalf, fill: "#55a868", fillOpacity: 0.1, inset: 0}),
      Plot.ruleY(centroids, {stroke: "#1a1a1a", strokeWidth: 1.2}),
      Plot.dot(pts, {x: "x", y: "y", r: p.r, fill: BLUE, stroke: "#ffffff", strokeWidth: 0.7}),
      Plot.axisX({ticks: xTicks, tickSize: 0, tickPadding: 16, fontSize: 22, tickFormat: fmtX, label: null}),
      Plot.axisY({ticks: yTicks, tickSize: 0, tickPadding: 16, fontSize: 22, tickFormat: fmtY, label: null}),
      Plot.text(["Original Model"], {text: d => d, frameAnchor: "bottom", dy: 57, lineAnchor: "middle", textAnchor: "middle", fontSize: 24}),
      Plot.text(["Retrained Model"], {text: d => d, frameAnchor: "left", dx: -92, rotate: -90, lineAnchor: "middle", textAnchor: "middle", fontSize: 24})
    ]
  });
}

function topHist(p) {
  const m = 5, mt = 2;
  const bins = p.top.counts.map((c, i) => ({x1: p.top.start + i * p.top.step, x2: p.top.start + (i + 1) * p.top.step, c})).filter(d => d.c > 0);
  const spikes = p.top.spikes.map(([x, c]) => ({x1: x - 0.0012, x2: x + 0.0012, c}));
  return Plot.plot({
    width: PW + 2 * m, height: 207 + mt + m,
    marginLeft: m, marginRight: m, marginTop: mt, marginBottom: m,
    style: baseStyle,
    x: {domain: [-1, 1], axis: null}, y: {domain: [0, p.top.ymax], axis: null},
    marks: [
      Plot.ruleX(xTicks, {stroke: GRID, strokeWidth: 2.4}),
      Plot.rectY(bins, {x1: "x1", x2: "x2", y1: () => 0, y2: "c", fill: BLUE, fillOpacity: 0.4, inset: 0, shapeRendering: "crispEdges"}),
      Plot.rectY(spikes, {x1: "x1", x2: "x2", y1: () => 0, y2: "c", fill: BLUE, fillOpacity: 0.4, inset: 0}),
      Plot.ruleY([0], {stroke: GRID, strokeWidth: 2.8})
    ]
  });
}

function rightHist(p) {
  const ml = 5, mt = 10;
  const bars = p.right.map(([y, c]) => ({y1: y - 0.0025, y2: y + 0.0025, c}));
  return Plot.plot({
    width: ml + 205, height: mt + PH + mt,
    marginLeft: ml, marginRight: 0, marginTop: mt, marginBottom: mt,
    style: baseStyle,
    x: {domain: [0, 104.6], axis: null}, y: {domain: [-0.75, 0.75], axis: null},
    marks: [
      Plot.ruleY(yTicks, {stroke: GRID, strokeWidth: 2.4}),
      Plot.rectX(bars, {y1: "y1", y2: "y2", x1: () => 0, x2: "c", fill: BLUE, fillOpacity: 0.4, inset: 0}),
      Plot.ruleX([0], {stroke: GRID, strokeWidth: 2.8})
    ]
  });
}

const panels = [
  {ox: 0, oy: 0, tag: "(a)", title: "Convolution Layer 1", pts: ptsA, zeros: zeroA, r: 3.1,
   top: {start: -0.9, step: 0.005, counts: histTopA, ymax: 8.4, spikes: []}, right: histRightA},
  {ox: 1357, oy: 0, tag: "(b)", title: "Convolution Layer 2", pts: ptsB, zeros: zeroB, r: 3.0,
   top: {start: -0.9, step: 0.01, counts: histTopB, ymax: 105, spikes: spikesB}, right: histRightB},
  {ox: 0, oy: 1426, tag: "(c)", title: "Dense Layer 1", pts: ptsC, zeros: zeroC, r: 2.6,
   top: {start: -0.6, step: 0.01, counts: histTopC, ymax: 105, spikes: []}, right: histRightC},
  {ox: 1357, oy: 1426, tag: "(d)", title: "Dense Layer 2", pts: ptsD, zeros: zeroD, r: 3.0,
   top: {start: -0.7, step: 0.01, counts: histTopD, ymax: 105, spikes: spikesD}, right: histRightD}
];

for (const p of panels) {
  place(topHist(p), p.ox + 199 - 5, p.oy + 34 - 2);
  place(mainPlot(p), p.ox, p.oy + 282 - 10);
  place(rightHist(p), p.ox + 1188 - 5, p.oy + 282 - 10);
  const cap = document.createElement("div");
  cap.className = "cap";
  const tag = document.createElement("span");
  tag.className = "tag";
  tag.textContent = p.tag;
  cap.appendChild(tag);
  cap.appendChild(document.createTextNode(" " + p.title));
  cap.style.left = (p.ox + 745 - 600) + "px";
  cap.style.top = (p.oy + 1411 - 69) + "px";
  root.appendChild(cap);
}
</script></body></html>
